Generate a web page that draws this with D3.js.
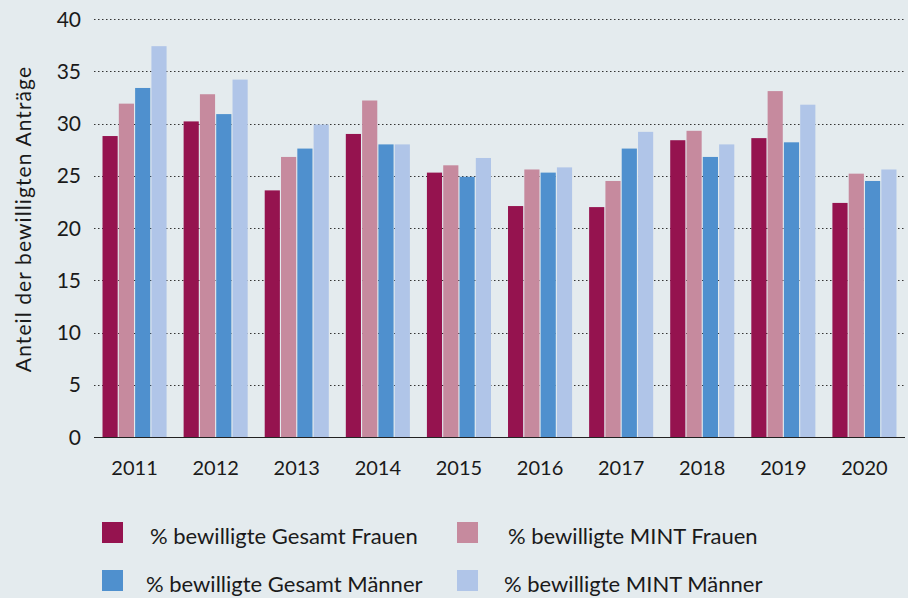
<!DOCTYPE html>
<html>
<head>
<meta charset="utf-8">
<script src="https://cdn.jsdelivr.net/npm/d3@7"></script>
<style>
  html, body { margin: 0; padding: 0; background: #e4ebee; }
  svg { display: block; font-family: Lato, "Open Sans", sans-serif; }
</style>
</head>
<body>
<div id="chart"></div>
<script>
// data
const years = ["2011", "2012", "2013", "2014", "2015", "2016", "2017", "2018", "2019", "2020"];
const gesamtFrauen = [28.8, 30.2, 23.6, 29.0, 25.3, 22.1, 22.0, 28.4, 28.6, 22.4];
const mintFrauen = [31.9, 32.8, 26.8, 32.2, 26.0, 25.6, 24.5, 29.3, 33.1, 25.2];
const gesamtMaenner = [33.4, 30.9, 27.6, 28.0, 24.9, 25.3, 27.6, 26.8, 28.2, 24.5];
const mintMaenner = [37.4, 34.2, 29.9, 28.0, 26.7, 25.8, 29.2, 28.0, 31.8, 25.6];
const seriesNames = ["% bewilligte Gesamt Frauen", "% bewilligte MINT Frauen", "% bewilligte Gesamt Männer", "% bewilligte MINT Männer"];
const seriesColors = ["#95134f", "#c68a9e", "#4f90ce", "#b0c5e8"];
const yTicks = [0, 5, 10, 15, 20, 25, 30, 35, 40];

const width = 908;
const height = 598;
const margin = { top: 19, right: 3, bottom: 161, left: 94 };

const allSeries = [gesamtFrauen, mintFrauen, gesamtMaenner, mintMaenner];
const table = years.map((y, i) => ({ year: y, values: allSeries.map(s => s[i]) }));

const svg = d3.select("#chart").append("svg")
  .attr("width", width)
  .attr("height", height);

svg.append("rect").attr("width", width).attr("height", height).attr("fill", "#e4ebee");

const x0 = d3.scaleBand()
  .domain(years)
  .range([margin.left, width - margin.right])
  .paddingInner(0.21)
  .paddingOuter(0.105);

const x1 = d3.scaleBand()
  .domain(d3.range(4))
  .range([0, x0.bandwidth()])
  .paddingInner(0.07);

const y = d3.scaleLinear()
  .domain([0, 40])
  .range([height - margin.bottom, margin.top]);

// gridlines
svg.append("g")
  .selectAll("line")
  .data(yTicks.filter(d => d > 0))
  .join("line")
  .attr("x1", margin.left)
  .attr("x2", width - margin.right)
  .attr("y1", d => Math.round(y(d)) + 0.5)
  .attr("y2", d => Math.round(y(d)) + 0.5)
  .attr("stroke", "#333")
  .attr("stroke-width", 1)
  .attr("stroke-dasharray", "1.5,2.5");

// bars
const group = svg.append("g")
  .selectAll("g")
  .data(table)
  .join("g")
  .attr("transform", d => `translate(${x0(d.year)},0)`);

group.selectAll("rect")
  .data(d => d.values)
  .join("rect")
  .attr("x", (d, i) => x1(i))
  .attr("y", d => y(d))
  .attr("width", x1.bandwidth())
  .attr("height", d => y(0) - y(d))
  .attr("fill", (d, i) => seriesColors[i]);

// baseline
svg.append("line")
  .attr("x1", margin.left)
  .attr("x2", width - margin.right)
  .attr("y1", Math.round(y(0)) + 0.5)
  .attr("y2", Math.round(y(0)) + 0.5)
  .attr("stroke", "#222");

// y tick labels
svg.append("g")
  .selectAll("text")
  .data(yTicks)
  .join("text")
  .attr("x", 81)
  .attr("y", d => y(d))
  .attr("dy", "0.36em")
  .attr("text-anchor", "end")
  .attr("font-size", 21)
  .attr("fill", "#1a1a1a")
  .text(d => d);

// x labels
svg.append("g")
  .selectAll("text")
  .data(years)
  .join("text")
  .attr("x", d => x0(d) + x0.bandwidth() / 2)
  .attr("y", 475)
  .attr("text-anchor", "middle")
  .attr("font-size", 20)
  .attr("fill", "#1a1a1a")
  .text(d => d);

// y axis title
svg.append("text")
  .attr("transform", `translate(31,${219}) rotate(-90)`)
  .attr("text-anchor", "middle")
  .attr("font-size", 21)
  .attr("letter-spacing", 1.1)
  .attr("fill", "#1a1a1a")
  .text("Anteil der bewilligten Anträge");

// legend
const legendPos = [[102, 522, 150], [457, 522, 508], [102, 570, 146], [457, 570, 504]];
const legend = svg.append("g")
  .selectAll("g")
  .data(seriesNames)
  .join("g");

legend.append("rect")
  .attr("x", (d, i) => legendPos[i][0])
  .attr("y", (d, i) => legendPos[i][1])
  .attr("width", 21)
  .attr("height", 21)
  .attr("fill", (d, i) => seriesColors[i]);

legend.append("text")
  .attr("x", (d, i) => legendPos[i][2])
  .attr("y", (d, i) => legendPos[i][1] + 22)
  .attr("font-size", 22)
  .attr("fill", "#1a1a1a")
  .text(d => d);
</script>
</body>
</html>
